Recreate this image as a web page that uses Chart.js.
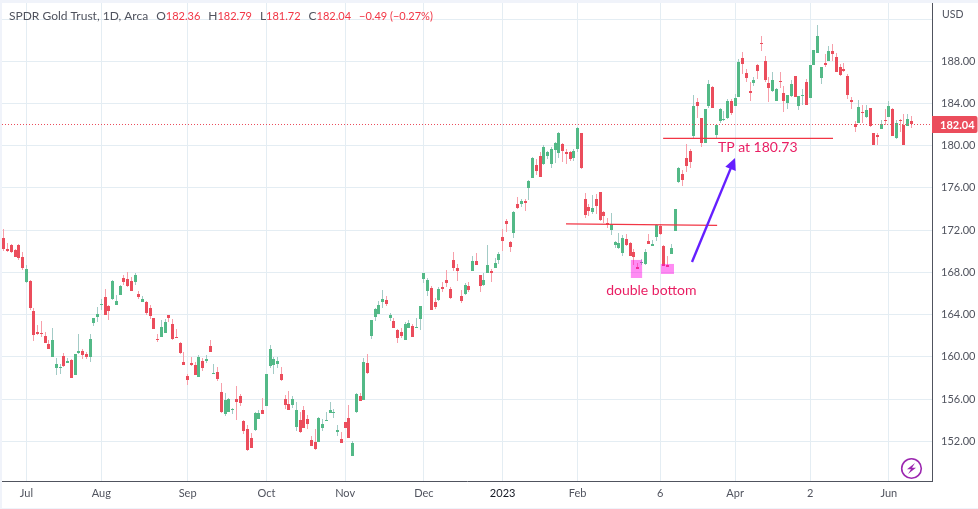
<!DOCTYPE html>
<html>
<head>
<meta charset="utf-8">
<style>
  html, body {margin: 0; padding: 0; background: #f0f3fa; overflow: hidden;}
  canvas {display: block;}
</style>
<script src="https://cdn.jsdelivr.net/npm/chart.js@4"></script>
</head>
<body>
<canvas id="chart" width="978" height="509"></canvas>
<script>
const opens = [
  171.3,170.2,170.6,170.1,170.6,169.5,167.1,167.2,164.3,162.4,
  162.3,162.0,161.2,160.0,158.9,158.9,160.1,159.4,159.7,158.3,
  160.4,160.6,160.3,160.0,163.2,163.8,164.9,165.7,164.8,165.5,
  164.9,165.9,167.5,167.4,167.2,167.1,166.0,165.2,165.2,164.6,
  163.7,161.7,161.9,162.3,164.0,163.1,161.9,161.3,159.5,158.2,
  159.4,159.2,158.1,159.6,159.6,161.0,158.4,158.6,156.7,154.6,
  154.8,155.0,156.0,156.3,153.9,153.2,152.3,153.1,154.1,155.0,
  155.3,159.1,159.2,159.3,158.4,156.0,155.5,155.4,153.4,154.0,
  155.0,154.1,152.1,151.9,151.9,153.3,153.9,154.7,154.7,152.9,
  152.2,153.8,154.2,150.6,154.8,156.3,155.9,159.4,162.0,163.8,
  164.1,165.2,165.4,163.7,163.4,162.5,162.4,161.6,162.7,162.9,
  162.7,163.6,167.4,166.2,166.5,165.2,165.4,166.6,167.3,166.4,
  169.2,168.4,165.8,166.0,166.7,168.1,169.1,167.8,166.8,167.9,
  168.1,168.4,169.2,171.4,172.9,170.9,171.7,174.5,174.5,174.8,
  176.0,176.9,178.2,179.0,178.3,179.0,178.3,179.6,179.3,180.2,
  179.4,179.4,178.8,179.7,181.2,175.0,174.2,173.7,175.0,175.6,
  173.7,172.7,172.0,170.6,170.3,169.8,171.2,170.8,169.9,168.5,
  168.9,168.8,171.0,170.5,171.4,172.4,170.5,168.7,169.7,171.9,
  176.6,177.3,178.8,179.5,180.9,184.1,182.6,180.3,183.8,185.6,
  181.0,182.3,182.4,182.6,184.2,183.8,184.6,188.3,186.9,185.2,
  185.9,187.6,189.7,188.0,185.9,185.2,184.2,186.1,185.0,184.0,
  184.7,186.6,183.8,184.7,186.0,184.5,187.6,188.8,186.4,187.8,
  188.0,189.0,188.4,187.5,187.3,186.6,184.3,182.1,182.2,183.2,
  182.7,183.6,181.2,181.0,181.6,182.4,182.7,183.5,180.7,182.4,
  182.0,181.9,182.36
];
const highs = [
  172.1,170.8,170.7,170.2,170.7,169.9,168.7,167.3,164.6,163.0,
  163.4,162.4,161.6,162.7,159.9,159.3,160.4,159.9,159.8,160.3,
  162.2,160.7,160.5,162.2,163.7,164.7,165.5,166.4,164.9,167.3,
  165.9,166.8,167.8,168.0,167.6,167.9,166.2,165.8,165.3,164.9,
  163.7,162.2,163.5,163.6,164.0,163.6,162.6,161.4,160.5,158.4,
  160.0,159.5,160.2,159.9,160.2,161.6,159.3,159.0,157.5,156.6,
  156.1,155.2,157.2,156.5,154.0,153.5,152.8,154.8,155.0,156.1,
  158.4,161.1,160.0,160.0,159.0,156.4,156.8,156.3,155.7,154.8,
  155.3,154.5,152.5,153.2,154.3,154.1,154.8,155.7,155.1,153.5,
  152.9,153.8,155.4,152.0,156.6,156.6,159.9,160.3,163.5,164.6,
  165.3,166.3,165.8,164.2,163.7,162.6,162.7,163.3,163.5,163.1,
  163.7,164.8,167.9,167.5,166.7,165.6,166.6,167.1,168.2,166.6,
  169.9,168.8,166.3,167.0,167.1,169.6,169.8,167.8,167.9,170.6,
  168.3,169.4,169.9,172.1,173.1,171.0,173.8,175.1,175.0,175.0,
  176.8,178.9,178.7,179.4,180.1,179.5,179.9,180.4,181.3,180.3,
  179.7,179.5,179.7,181.8,181.2,175.5,174.5,175.3,175.4,175.6,
  173.8,173.2,173.6,171.0,171.7,171.5,171.6,170.9,170.2,168.9,
  169.3,170.2,171.6,171.1,172.6,172.6,170.6,169.6,170.7,174.0,
  178.0,177.7,180.2,179.7,184.8,184.5,182.6,183.5,186.2,185.7,
  182.1,183.6,183.3,184.4,184.4,184.9,188.2,188.9,187.3,186.0,
  186.5,187.7,190.4,188.5,186.5,187.0,185.5,187.0,185.7,184.8,
  186.2,186.6,184.7,185.4,186.3,187.6,189.1,191.4,187.5,188.7,
  189.4,189.6,188.8,187.7,187.8,186.8,184.6,182.3,184.3,183.9,
  183.9,183.6,181.2,181.2,182.4,183.5,184.2,183.6,182.4,182.5,
  183.0,183.0,182.79
];
const lows = [
  170.0,169.9,169.8,169.5,169.2,168.2,167.0,164.4,161.5,162.1,
  161.9,161.3,160.7,160.0,158.3,158.4,159.0,159.4,158.0,158.3,
  160.3,159.8,159.8,159.5,162.9,163.3,164.4,164.0,163.5,165.4,
  164.9,165.9,166.8,166.6,166.2,166.8,165.5,165.2,164.0,163.6,
  162.6,161.4,161.9,162.3,163.3,161.6,161.8,160.3,159.2,157.3,
  159.1,158.3,158.1,158.7,159.4,160.5,158.4,157.7,154.7,154.4,
  154.8,154.6,154.0,155.3,152.7,151.1,151.4,153.0,154.1,154.6,
  155.3,158.9,158.4,158.9,157.7,155.1,155.0,155.2,153.0,152.8,
  153.3,153.2,151.6,151.2,151.9,153.0,153.9,154.7,154.2,152.5,
  151.8,153.3,152.3,150.6,154.7,155.8,155.9,158.4,161.7,163.4,
  164.1,164.6,164.8,163.4,162.7,161.3,161.8,161.6,162.7,161.9,
  162.7,162.5,167.0,165.8,164.4,164.5,165.3,166.1,166.6,165.5,
  168.1,167.2,165.1,165.9,166.1,168.1,168.7,166.1,166.7,167.9,
  167.1,168.4,168.8,170.0,171.8,169.9,171.3,174.0,174.2,173.8,
  174.9,176.9,177.2,177.0,178.2,178.7,177.9,178.4,178.8,178.5,
  178.3,178.6,178.6,179.4,177.8,173.2,173.3,173.5,173.5,172.9,
  172.7,172.2,171.5,170.3,170.2,169.6,170.5,169.6,168.7,168.3,
  168.7,168.7,170.7,170.5,171.0,171.5,168.6,168.5,169.7,171.9,
  176.5,176.2,177.5,177.9,180.7,182.6,179.9,180.3,183.6,183.6,
  180.7,182.2,182.3,182.5,182.9,183.8,184.6,186.8,186.0,184.2,
  185.7,186.3,189.0,186.0,184.1,185.1,184.2,185.5,183.2,183.5,
  184.6,184.6,183.4,183.9,183.9,184.5,187.6,188.8,185.8,187.5,
  188.0,188.0,187.0,186.6,187.0,184.4,183.5,181.3,182.2,182.2,
  182.6,181.8,180.1,180.1,181.6,182.0,182.7,180.9,180.6,181.3,
  180.1,181.9,181.72
];
const closes = [
  170.2,170.0,169.9,169.5,169.4,168.4,168.3,164.6,162.1,162.2,
  162.2,161.3,160.7,161.6,159.3,159.0,159.1,159.6,158.0,160.3,
  160.6,160.2,160.0,161.7,163.7,164.1,165.0,164.0,164.3,167.2,
  165.3,166.7,167.1,166.7,166.2,167.8,165.7,165.5,164.2,163.9,
  162.6,161.6,162.8,163.3,163.7,161.7,161.8,160.4,159.2,157.8,
  159.2,158.3,160.0,158.9,159.8,160.5,158.5,157.9,154.8,155.9,
  156.0,155.1,155.7,155.6,153.0,151.2,151.4,154.7,154.7,154.6,
  158.4,160.7,159.8,159.6,157.8,155.4,155.0,156.0,155.0,152.9,
  153.3,153.6,151.6,151.3,154.2,153.6,154.0,155.0,154.8,153.1,
  151.8,153.3,152.3,151.8,156.5,155.8,159.5,158.5,163.5,164.5,
  164.9,165.5,165.0,164.0,162.7,161.8,162.0,163.1,163.2,161.9,
  162.8,164.8,167.9,167.3,164.4,164.7,166.4,166.4,167.0,165.6,
  168.4,168.1,165.3,166.8,166.3,169.1,168.7,166.7,167.3,168.7,
  167.9,168.9,169.7,171.0,172.6,170.4,173.7,174.1,174.8,174.6,
  176.7,178.8,177.6,177.0,179.9,179.4,179.7,180.3,181.2,179.5,
  179.2,178.7,179.5,181.7,177.9,173.4,173.8,174.1,174.3,173.0,
  173.3,172.5,172.6,170.9,170.8,171.3,170.6,169.6,169.5,168.3,
  169.0,169.9,170.7,170.7,172.5,171.6,168.6,168.5,170.3,174.0,
  177.9,176.8,178.1,178.5,183.8,183.8,180.3,183.5,185.8,183.6,
  182.0,183.5,182.5,184.2,183.1,184.5,187.9,187.7,186.4,185.0,
  186.2,187.1,189.6,186.2,185.5,186.2,185.4,186.0,184.2,184.8,
  185.8,184.6,184.7,184.8,183.9,187.6,189.1,190.4,187.5,187.6,
  189.0,188.7,187.0,186.7,187.1,184.8,184.1,181.8,183.7,183.1,
  183.4,181.9,180.1,180.8,182.1,182.3,183.8,180.9,182.2,182.3,
  180.1,182.5,182.04
];

// category slots, the last few stay empty like the space right of the last candle
const slotCount = 248;
const xTickSlots = [6, 26, 49, 70, 91, 112, 133, 153, 175, 195, 215, 236];
const xTickLabels = ['Jul', 'Aug', 'Sep', 'Oct', 'Nov', 'Dec', '2023', 'Feb', '6', 'Apr', '2', 'Jun'];
const categories = Array.from({length: slotCount}, (_, i) => {
    const at = xTickSlots.indexOf(i);
    return at >= 0 ? xTickLabels[at] : '';
});

const yTickValues = [152, 156, 160, 164, 168, 172, 176, 180, 184, 188, 192];
const yTickLabels = ['152.00', '156.00', '160.00', '164.00', '168.00', '172.00', '176.00', '180.00', '184.00', '188.00', ''];

const lastPrice = 182.04;
const legendParts = [
    ['SPDR Gold Trust, 1D, Arca', 'n'], ['O', 'n'], ['182.36', 'v'], ['H', 'n'], ['182.79', 'v'],
    ['L', 'n'], ['181.72', 'v'], ['C', 'n'], ['182.04', 'v'], ['\u22120.49 (\u22120.27%)', 'v']
];

// drawn annotations, [slot, price]
const tpLine = [[175.8, 180.7], [221.1, 180.7]];
const neckLine = [[149.9, 172.6], [190.2, 172.45]];
const bottomBoxes = [
    [[167.2, 169.18], [170.2, 167.47]],
    [[175.2, 168.8], [178.7, 167.85]]
];
const arrowLine = [[183.5, 168.99], [194.97, 178.84]];
const tpLabel = ['TP at 180.73', 190.4, 179.88];
const bottomLabel = ['double bottom', 160.6, 166.33];

const textColor = '#50535e';
const upColor = '#53b987';
const downColor = '#eb4d5c';
const upWick = '#a3cbc6';
const downWick = '#f79faa';
const pinkText = '#e91e63';
const fontName = 'Lato, "Open Sans", sans-serif';

const isUp = i => closes[i] >= opens[i];

// snap bars to whole pixels, otherwise the thin candles get blurry
const snapBars = {
    id: 'snapBars',
    beforeDatasetsDraw(chart) {
        chart.data.datasets.forEach((ds, d) => {
            chart.getDatasetMeta(d).data.forEach(el => {
                el.x = Math.floor(el.x) + 0.5;
                const top = Math.round(Math.min(el.y, el.base));
                let bottom = Math.round(Math.max(el.y, el.base));
                if (bottom <= top) bottom = top + 1;
                el.y = top;
                el.base = bottom;
            });
        });
    }
};

const pageBack = {
    id: 'pageBack',
    beforeDraw(chart) {
        const c = chart.ctx;
        c.save();
        c.fillStyle = '#ffffff';
        c.fillRect(2, 3, 976, 505);
        c.restore();
    }
};

const overlays = {
    id: 'overlays',
    afterDraw(chart) {
        const c = chart.ctx;
        const xs = chart.scales.x, ys = chart.scales.y;
        const area = chart.chartArea;
        const px = p => [xs.getPixelForValue(p[0]), ys.getPixelForValue(p[1])];
        c.save();

        // last price line
        const py = Math.round(ys.getPixelForValue(lastPrice)) + 0.5;
        c.strokeStyle = downColor;
        c.lineWidth = 1;
        c.setLineDash([1, 2]);
        c.beginPath();
        c.moveTo(area.left, py);
        c.lineTo(area.right, py);
        c.stroke();
        c.setLineDash([]);

        // last price tag
        c.fillStyle = downColor;
        c.beginPath();
        c.roundRect(area.right, py - 8.5, 45.5, 17, [0, 2, 2, 0]);
        c.fill();
        c.fillStyle = '#ffffff';
        c.font = 'bold 11px ' + fontName;
        c.textBaseline = 'middle';
        c.textAlign = 'left';
        c.fillText(lastPrice.toFixed(2), area.right + 8, py + 0.5);

        // trend lines
        c.strokeStyle = '#f23645';
        c.lineWidth = 1.2;
        [tpLine, neckLine].forEach(l => {
            const a = px(l[0]), b = px(l[1]);
            c.beginPath();
            c.moveTo(a[0], a[1]);
            c.lineTo(b[0], b[1]);
            c.stroke();
        });

        // pink boxes on the two bottoms
        c.fillStyle = 'rgba(255, 0, 229, 0.45)';
        bottomBoxes.forEach(b => {
            const a = px(b[0]), e = px(b[1]);
            c.fillRect(a[0], a[1], e[0] - a[0], e[1] - a[1]);
        });

        // arrow
        const from = px(arrowLine[0]), to = px(arrowLine[1]);
        const ang = Math.atan2(to[1] - from[1], to[0] - from[0]);
        c.strokeStyle = '#651fff';
        c.fillStyle = '#651fff';
        c.lineWidth = 2.4;
        c.beginPath();
        c.moveTo(from[0], from[1]);
        c.lineTo(to[0] - 8 * Math.cos(ang), to[1] - 8 * Math.sin(ang));
        c.stroke();
        c.beginPath();
        c.moveTo(to[0], to[1]);
        c.lineTo(to[0] - 13 * Math.cos(ang - 0.45), to[1] - 13 * Math.sin(ang - 0.45));
        c.lineTo(to[0] - 13 * Math.cos(ang + 0.45), to[1] - 13 * Math.sin(ang + 0.45));
        c.closePath();
        c.fill();

        // annotation text
        c.fillStyle = pinkText;
        c.font = '14px ' + fontName;
        [tpLabel, bottomLabel].forEach(t => {
            const p = px([t[1], t[2]]);
            c.fillText(t[0], p[0], p[1]);
        });

        // legend row, values run narrower than the names in the original
        let x = 9;
        legendParts.forEach((part, i) => {
            c.font = (part[1] === 'v' ? '11px ' : '12px ') + fontName;
            c.fillStyle = part[1] === 'v' ? '#f23645' : textColor;
            c.fillText(part[0], x, 16.5);
            x += c.measureText(part[0]).width;
            if (part[1] === 'v' || i === 0) x += 8;
        });

        // currency
        c.fillStyle = textColor;
        c.font = '10.5px ' + fontName;
        c.fillText('USD', 942, 15);

        // bolt badge
        const bx = 911.5, by = 468.5;
        c.strokeStyle = '#9c27b0';
        c.fillStyle = '#9c27b0';
        c.lineWidth = 1.6;
        c.beginPath();
        c.arc(bx, by, 9.8, 0, Math.PI * 2);
        c.stroke();
        c.beginPath();
        c.moveTo(bx + 3.5, by - 5.5);
        c.lineTo(bx - 4.5, by + 0.8);
        c.lineTo(bx - 0.5, by + 0.8);
        c.lineTo(bx - 3.5, by + 5.5);
        c.lineTo(bx + 4.5, by - 0.8);
        c.lineTo(bx + 0.5, by - 0.8);
        c.closePath();
        c.fill();

        c.restore();
    }
};

new Chart(document.getElementById('chart'), {
    type: 'bar',
    data: {
        labels: categories,
        datasets: [
            {
                label: 'Body',
                data: opens.map((o, i) => [o, closes[i]]),
                backgroundColor: opens.map((o, i) => isUp(i) ? upColor : downColor),
                barThickness: 3,
                inflateAmount: 0,
                order: 1
            },
            {
                label: 'Wick',
                data: lows.map((l, i) => [l, highs[i]]),
                backgroundColor: lows.map((l, i) => isUp(i) ? upWick : downWick),
                barThickness: 1,
                inflateAmount: 0,
                order: 2
            }
        ]
    },
    plugins: [pageBack, snapBars, overlays],
    options: {
        responsive: false,
        animation: false,
        devicePixelRatio: 1,
        layout: {padding: {left: 2, top: 3, right: 0, bottom: 2}},
        datasets: {bar: {grouped: false}},
        scales: {
            x: {
                afterFit: s => { s.height = 26; s.paddingLeft = 0; s.paddingRight = 0; },
                afterBuildTicks: s => { s.ticks = xTickSlots.map(v => ({value: v})); },
                grid: {color: '#e4edf3', offset: false, drawTicks: false},
                border: {color: '#50535e'},
                ticks: {
                    autoSkip: false,
                    maxRotation: 0,
                    padding: 6,
                    color: ctx => ctx.tick && ctx.tick.value === 133 ? '#131722' : textColor,
                    font: {family: fontName, size: 11}
                }
            },
            y: {
                position: 'right',
                min: 148.24,
                max: 193.52,
                afterFit: s => { s.width = 46; s.paddingTop = 0; s.paddingBottom = 0; },
                afterBuildTicks: s => { s.ticks = yTickValues.map(v => ({value: v})); },
                grid: {color: '#e4edf3', drawTicks: false},
                border: {color: '#50535e'},
                ticks: {
                    padding: 9,
                    color: textColor,
                    font: {family: fontName, size: 11},
                    callback: (v, i) => yTickLabels[i]
                }
            }
        },
        plugins: {
            legend: {display: false},
            tooltip: {enabled: false}
        }
    }
});
</script>
</body>
</html>
